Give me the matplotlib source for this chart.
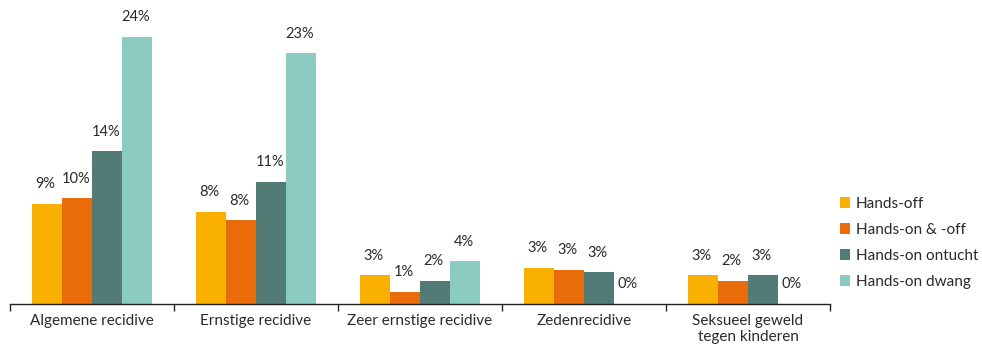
import matplotlib.pyplot as plt
import numpy as np
from matplotlib.patches import Patch

plt.rcParams["font.family"] = ["Lato", "DejaVu Sans"]

CATEGORIES = [
    "Algemene recidive",
    "Ernstige recidive",
    "Zeer ernstige recidive",
    "Zedenrecidive",
    "Seksueel geweld\ntegen kinderen",
]
SERIES = ["Hands-off", "Hands-on & -off", "Hands-on ontucht", "Hands-on dwang"]
HANDS_OFF = [9.1, 8.4, 2.6, 3.3, 2.6]
HANDS_ON_OFF = [9.6, 7.6, 1.1, 3.1, 2.1]
HANDS_ON_ONTUCHT = [13.9, 11.1, 2.1, 2.9, 2.6]
HANDS_ON_DWANG = [24.3, 22.8, 3.9, 0.0, 0.0]

COLORS = ["#f9b000", "#e96b0a", "#537b75", "#8bcbc0"]
TEXT = "#2a2a2a"

values = [HANDS_OFF, HANDS_ON_OFF, HANDS_ON_ONTUCHT, HANDS_ON_DWANG]
x = np.arange(len(CATEGORIES))
width = 0.183

fig = plt.figure(figsize=(9.82, 3.47), dpi=100)
ax = fig.add_axes([10 / 982, 43 / 347, 820 / 982, 286 / 347])

for i, (series, color, vals) in enumerate(zip(SERIES, COLORS, values)):
    pos = x + (i - 1.5) * width
    ax.bar(pos, vals, width=width, color=color, label=series, edgecolor="none")
    for px, v in zip(pos, vals):
        ax.annotate(
            f"{v:.0f}%",
            xy=(px, v),
            xytext=(-1, 9),
            textcoords="offset points",
            ha="center",
            va="bottom",
            fontsize=10.5,
            color=TEXT,
        )

ax.set_xlim(-0.5, len(CATEGORIES) - 0.5)
ax.set_ylim(0, 26)
ax.set_yticks([])
ax.set_xticks(x, CATEGORIES)
ax.set_xticks(np.arange(len(CATEGORIES) + 1) - 0.5, minor=True)
ax.tick_params(axis="x", which="major", length=0, pad=7, labelsize=11, colors=TEXT)
ax.tick_params(axis="x", which="minor", length=5, width=1, color="#222222", direction="out")
for spine in ["top", "right", "left"]:
    ax.spines[spine].set_visible(False)
ax.spines["bottom"].set_color("#222222")
ax.spines["bottom"].set_linewidth(1.0)

handles = [Patch(facecolor=c, edgecolor="none") for c in COLORS]
fig.legend(
    handles,
    SERIES,
    loc="center left",
    bbox_to_anchor=(826 / 982, 1 - 243 / 347),
    frameon=False,
    fontsize=11,
    handlelength=0.7,
    handleheight=0.7,
    handletextpad=0.35,
    labelspacing=0.78,
    labelcolor=TEXT,
)

fig.savefig("out.png", dpi=100)
